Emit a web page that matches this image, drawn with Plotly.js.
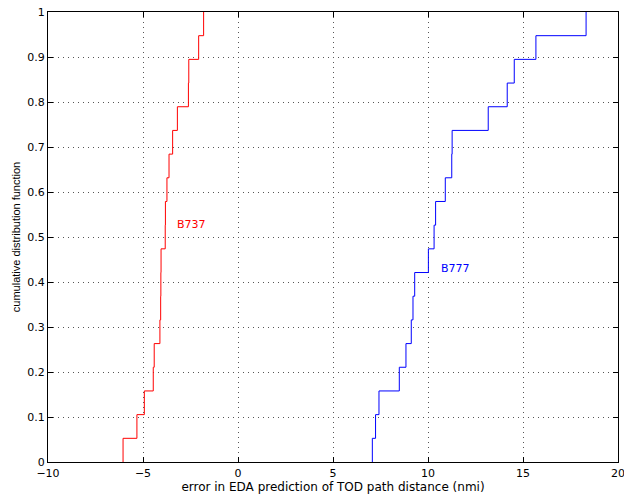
<!DOCTYPE html>
<html>
<head>
<meta charset="utf-8">
<script src="https://cdn.plot.ly/plotly-3.0.1.min.js"></script>
<style>html,body{margin:0;padding:0;background:#fff;}#chart{width:624px;height:498px;}</style>
</head>
<body>
<div id="chart"></div>
<script>
// Sorted sample values (error in nmi) read from the step positions
const b737Errors = [-6.05, -5.32, -4.93, -4.46, -4.41, -4.11, -4.07, -4.06, -4.05, -3.83,
                    -3.82, -3.74, -3.63, -3.44, -3.19, -2.61, -2.59, -2.07, -1.81];
const b777Errors = [7.07, 7.24, 7.42, 8.49, 8.84, 9.12, 9.21, 9.30, 10.02, 10.32,
                    10.40, 10.91, 11.25, 11.27, 13.17, 14.17, 14.54, 15.68, 18.32];
const seriesNames = ['B737', 'B777'];
const seriesColors = ['#ff0000', '#0000ff'];
const labelPos = [[-3.3, 0.527], [10.6, 0.429]];
const xTicks = [-10, -5, 0, 5, 10, 15, 20];
const yTicks = [0, 0.1, 0.2, 0.3, 0.4, 0.5, 0.6, 0.7, 0.8, 0.9, 1];

function empiricalCdf(vals) {
  const s = vals.slice().sort((a, b) => a - b);
  const n = s.length;
  const x = [s[0]], y = [0];
  s.forEach((v, i) => { x.push(v); y.push((i + 1) / n); });
  return {x, y};
}

const traces = [b737Errors, b777Errors].map((vals, i) => {
  const c = empiricalCdf(vals);
  return {x: c.x, y: c.y, mode: 'lines', line: {shape: 'hv', color: seriesColors[i], width: 1},
          name: seriesNames[i], hoverinfo: 'skip'};
});

const wideFont = {family: 'DejaVu Sans, sans-serif', size: 11, color: '#000'};
const narrowFont = {family: 'Liberation Sans, Arial, sans-serif', size: 11, color: '#000'};
const axisCommon = {
  showline: true, linecolor: '#000', linewidth: 1, mirror: 'allticks',
  ticks: 'inside', ticklen: 5, tickcolor: '#000', tickwidth: 1,
  showgrid: true, gridcolor: '#555', griddash: '1px,4px', gridwidth: 1,
  zeroline: false, tickfont: wideFont, ticklabeloverflow: 'allow'
};

const layout = {
  width: 624, height: 498,
  margin: {l: 48, r: 6, t: 12, b: 36},
  paper_bgcolor: '#fff', plot_bgcolor: '#fff',
  showlegend: false, font: wideFont,
  xaxis: Object.assign({}, axisCommon, {
    range: [-10, 20], tickvals: xTicks, ticktext: xTicks.map(v => v < 0 ? '\u2212' + Math.abs(v) : String(v)),
    ticklabelstandoff: 1,
    title: {text: 'error in EDA prediction of TOD path distance (nmi)',
            font: {family: wideFont.family, size: 12, color: '#000'}, standoff: 3}
  }),
  yaxis: Object.assign({}, axisCommon, {
    range: [0, 1], tickvals: yTicks, ticktext: yTicks.map(v => String(v)),
    title: {text: 'cumulative distribution function', font: narrowFont, standoff: 4}
  }),
  annotations: seriesNames.map((n, i) => ({
    x: labelPos[i][0], y: labelPos[i][1], xref: 'x', yref: 'y', text: n, showarrow: false,
    xanchor: 'left', yanchor: 'middle', font: {family: wideFont.family, size: 11, color: seriesColors[i]}
  }))
};

Plotly.newPlot('chart', traces, layout, {displayModeBar: false, staticPlot: true});
</script>
</body>
</html>
